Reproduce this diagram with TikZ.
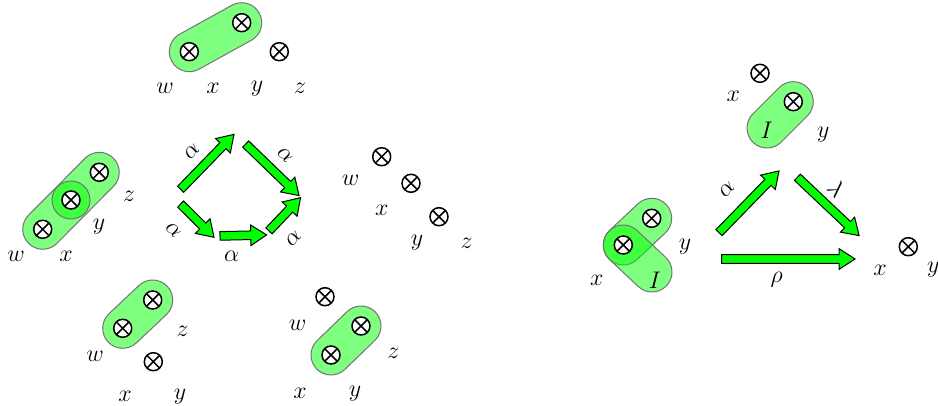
\documentclass[tikz,border=0pt]{standalone}
\usetikzlibrary{calc,shapes.arrows,backgrounds}
\tikzset{
  tens/.style={circle, draw, fill=white, line width=0.75pt, minimum size=9pt, inner sep=0pt,
    path picture={\draw[line width=0.75pt] (path picture bounding box.north west) -- (path picture bounding box.south east)
      (path picture bounding box.north east) -- (path picture bounding box.south west);}},
  lab/.style={font=\large, inner sep=0pt},
  blobst/.style={rectangle, draw=black!55, line width=0.5pt, fill=green, fill opacity=0.5, inner sep=0pt},
  fat/.style={single arrow, draw=black, fill=green, line width=0.5pt, inner sep=1.9pt, minimum width=0pt,
    single arrow head extend=3pt, single arrow tip angle=66, anchor=center}
}
\newcommand\blobAB[2]{\path let \p1=($(#2)-(#1)$), \n1={veclen(\x1,\y1)}, \n2={atan2(\y1,\x1)} in
  node[blobst, minimum width=\n1+20pt, minimum height=20pt, rounded corners=10pt, rotate=\n2] at ($(#1)!0.5!(#2)$) {};}
\newcommand\fatarr[2]{\path let \p1=($(#2)-(#1)$), \n1={veclen(\x1,\y1)}, \n2={atan2(\y1,\x1)} in
  node[fat, minimum height=\n1, rotate=\n2] at ($(#1)!0.5!(#2)$) {};}
\begin{document}
\begin{tikzpicture}[x=0.5pt,y=-0.5pt]
\useasboundingbox (0,0) rectangle (938,406);
% ---------- top group
\node[tens] (T1) at (189.3,51.7) {};
\node[tens] (T2) at (241.7,22.7) {};
\node[tens] (T3) at (279.3,51.7) {};
\node[lab] (Tw) at (165,88) {$w$};
\node[lab] (Tx) at (213,88) {$x$};
\node[lab] (Ty) at (257,89) {$y$};
\node[lab] (Tz) at (300,88) {$z$};
% ---------- left group
\node[tens] (L1) at (42.7,229.3) {};
\node[tens] (L2) at (71,200) {};
\node[tens] (L3) at (99.3,172.3) {};
\node[lab] (Lw) at (16,256) {$w$};
\node[lab] (Lx) at (66,256) {$x$};
\node[lab] (Ly) at (99,227) {$y$};
\node[lab] (Lz) at (129,196) {$z$};
% ---------- middle group
\node[tens] (M1) at (381.7,156.7) {};
\node[tens] (M2) at (411,183.3) {};
\node[tens] (M3) at (439,216.7) {};
\node[lab] (Mw) at (350.7,180) {$w$};
\node[lab] (Mx) at (381.7,210) {$x$};
\node[lab] (My) at (417,243) {$y$};
\node[lab] (Mz) at (466.7,243) {$z$};
% ---------- bottom-left group
\node[tens] (B1) at (122.7,328.3) {};
\node[tens] (B2) at (152.7,300) {};
\node[tens] (B3) at (153.3,361.7) {};
\node[lab] (Bw) at (95,356.7) {$w$};
\node[lab] (Bz) at (182.7,331.7) {$z$};
\node[lab] (Bx) at (125,396.7) {$x$};
\node[lab] (By) at (180,396.7) {$y$};
% ---------- bottom-right group
\node[tens] (C1) at (325,296.7) {};
\node[tens] (C2) at (361,326) {};
\node[tens] (C3) at (331,355) {};
\node[lab] (Cw) at (297.7,325) {$w$};
\node[lab] (Cz) at (393.3,353.3) {$z$};
\node[lab] (Cx) at (300,393.3) {$x$};
\node[lab] (Cy) at (355,393.3) {$y$};
% ---------- right top group
\node[tens] (R1) at (760,73.3) {};
\node[tens] (R2) at (793.3,101.7) {};
\node[lab] (Rx) at (733.3,96.7) {$x$};
\node[lab] (Ry) at (823.3,135) {$y$};
\node[lab] (RI) at (766.7,130) {$I$};
\coordinate (RIc) at (767,128);
% ---------- right left group
\node[tens] (S1) at (623.3,245) {};
\node[tens] (S2) at (651.7,218.3) {};
\node[lab] (Sx) at (596.7,280) {$x$};
\node[lab] (Sy) at (685,246.7) {$y$};
\node[lab] (SI) at (655,280) {$I$};
\coordinate (SIc) at (652,272);
% ---------- right result
\node[tens] (Q1) at (908.3,246.7) {};
\node[lab] (Qx) at (880,270) {$x$};
\node[lab] (Qy) at (933.3,270) {$y$};
% ---------- blobs
\begin{scope}[on background layer]
\blobAB{T1}{T2}
\blobAB{L1}{L3}
\node[blobst, circle, minimum size=19pt] (Lc) at (L2) {};
\blobAB{B1}{B2}
\blobAB{C3}{C2}
\blobAB{RIc}{R2}
\blobAB{S1}{S2}
\blobAB{S1}{SIc}
\end{scope}
% ---------- left arrows
\coordinate (a1s) at (178.3,191.7); \coordinate (a1e) at (231.7,136.7);
\coordinate (a2s) at (243.3,141.7); \coordinate (a2e) at (296.7,193.3);
\coordinate (a3s) at (178.3,201.7); \coordinate (a3e) at (211.7,235);
\coordinate (a4s) at (216.7,236);   \coordinate (a4e) at (263.3,235);
\coordinate (a5s) at (266.7,233.3); \coordinate (a5e) at (298.3,200);
\fatarr{a1s}{a1e}
\fatarr{a2s}{a2e}
\fatarr{a3s}{a3e}
\fatarr{a4s}{a4e}
\fatarr{a5s}{a5e}
\node[lab, rotate=45] (l1) at (191.7,151.7) {$\alpha$};
\node[lab, rotate=-45] (l2) at (285,155) {$\alpha$};
\node[lab, rotate=-45] (l3) at (173.3,230) {$\alpha$};
\node[lab] (l4) at (231.7,256.7) {$\alpha$};
\node[lab, rotate=45] (l5) at (293.3,238.3) {$\alpha$};
% ---------- right arrows
\coordinate (r1s) at (716.7,235);   \coordinate (r1e) at (776.7,173.3);
\coordinate (r2s) at (795,175);     \coordinate (r2e) at (856.7,233.3);
\coordinate (r3s) at (718.3,259);   \coordinate (r3e) at (851.7,259);
\fatarr{r1s}{r1e}
\fatarr{r2s}{r2e}
\fatarr{r3s}{r3e}
\node[lab, rotate=45] (m1) at (726.7,190) {$\alpha$};
\node[lab, rotate=-45] (m2) at (836.7,188.3) {$\lambda$};
\node[lab] (m3) at (776.7,280) {$\rho$};
\end{tikzpicture}
\end{document}
